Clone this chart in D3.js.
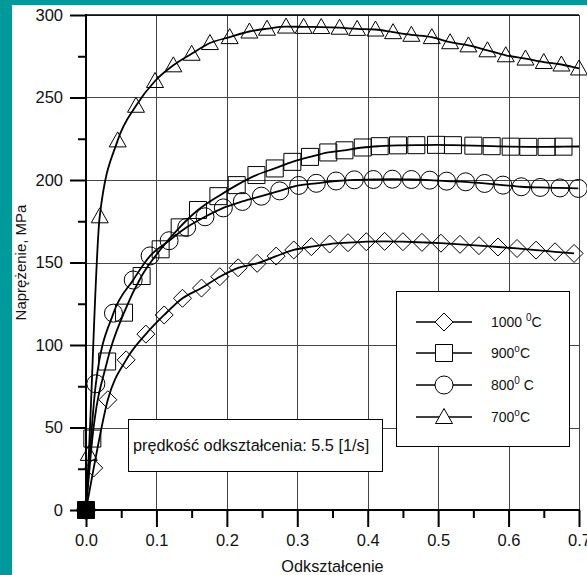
<!DOCTYPE html>
<html><head><meta charset="utf-8">
<script src="https://cdn.jsdelivr.net/npm/d3@7"></script>
<style>
html,body{margin:0;padding:0;background:#fff;}
svg{display:block;font-family:"Liberation Sans",Arial,sans-serif;}
</style></head>
<body><svg id="c" width="587" height="575"></svg>
<script>
// ---- data ----
const xTicks = [0, 0.1, 0.2, 0.3, 0.4, 0.5, 0.6, 0.7];
const xMinorTicks = [0.05, 0.15, 0.25, 0.35, 0.45, 0.55, 0.65];
const yTicks = [0, 50, 100, 150, 200, 250, 300];
const yMinorTicks = [25, 75, 125, 175, 225, 275];

const strain1000 = [0, 0.011, 0.031, 0.057, 0.085, 0.111, 0.137, 0.164, 0.190, 0.216, 0.243, 0.270, 0.295, 0.320, 0.346, 0.372, 0.398, 0.424, 0.450, 0.477, 0.504, 0.531, 0.558, 0.585, 0.612, 0.639, 0.666, 0.693];
const stress1000 = [0, 25.5, 66.8, 91.0, 106.6, 118.2, 128.3, 134.5, 141.4, 146.8, 149.5, 153.9, 157.6, 159.6, 161.2, 162.0, 162.6, 162.8, 162.6, 162.2, 161.7, 161.0, 160.2, 159.4, 158.5, 157.5, 156.5, 155.5];

const strain900 = [0, 0.009, 0.030, 0.054, 0.079, 0.106, 0.133, 0.159, 0.188, 0.214, 0.242, 0.268, 0.293, 0.318, 0.344, 0.367, 0.393, 0.417, 0.443, 0.469, 0.497, 0.521, 0.550, 0.576, 0.603, 0.628, 0.654, 0.678];
const stress900 = [0, 43.3, 90.0, 119.6, 141.8, 158.0, 171.3, 181.8, 190.2, 196.9, 203.0, 207.0, 211.0, 214.0, 216.7, 218.0, 219.7, 220.5, 221.0, 221.1, 221.3, 221.1, 220.8, 220.5, 220.2, 220.1, 220.1, 220.2];
const lineEnd900 = [0.700, 220.3];

const strain800 = [0, 0.014, 0.039, 0.067, 0.091, 0.118, 0.143, 0.169, 0.195, 0.222, 0.249, 0.275, 0.302, 0.327, 0.355, 0.381, 0.408, 0.435, 0.462, 0.488, 0.512, 0.539, 0.566, 0.592, 0.618, 0.645, 0.673, 0.699];
const stress800 = [0, 76.5, 119.3, 139.4, 154.0, 163.2, 171.3, 177.7, 183.1, 187.0, 190.2, 193.4, 196.7, 198.0, 199.4, 200.1, 200.3, 200.5, 200.3, 199.9, 199.3, 198.9, 197.9, 196.9, 195.9, 195.5, 195.2, 194.9];

const strain700 = [0, 0.004, 0.0195, 0.045, 0.071, 0.098, 0.124, 0.150, 0.176, 0.204, 0.232, 0.257, 0.284, 0.309, 0.334, 0.360, 0.385, 0.411, 0.436, 0.462, 0.491, 0.517, 0.543, 0.570, 0.596, 0.624, 0.650, 0.675, 0.700];
const stress700 = [0, 34, 178, 224, 245, 260, 269.5, 276.5, 283, 286.6, 290, 291.7, 293, 292.8, 292.7, 292.3, 291.6, 291.2, 289.6, 288, 286.6, 283.5, 281.6, 278.6, 275.6, 273.6, 271.5, 270, 267.6];

const seriesNames = ["1000", "900", "800", "700"];
const seriesSymbols = ["diamond", "square", "circle", "triangle"];
const legendLabels = [["1000 ", "0", "C"], ["900", "o", "C"], ["800", "0", " C"], ["700", "o", "C"]];
const annotation = "prędkość odkształcenia: 5.5 [1/s]";
const xTitle = "Odkształcenie";
const yTitle = "Naprężenie, MPa";

// ---- build ----
const svg = d3.select("#c");
const W = 587, H = 575;
const L = 86, R = 579, T = 15, B = 510;
const x = d3.scaleLinear().domain([0, 0.7]).range([L, R]);
const y = d3.scaleLinear().domain([0, 300]).range([B, T]);

// teal frame
svg.append("rect").attr("x", 0).attr("y", 0).attr("width", W).attr("height", H).attr("fill", "#fff");
svg.append("rect").attr("x", 0).attr("y", 0).attr("width", 12).attr("height", H).attr("fill", "#009a9a");
svg.append("rect").attr("x", 0).attr("y", 0).attr("width", W).attr("height", 5).attr("fill", "#009a9a");

// grid
const grid = svg.append("g");
grid.selectAll("line.vx").data(xTicks.slice(1)).join("line")
  .attr("x1", d => Math.round(x(d)) + 0.5).attr("x2", d => Math.round(x(d)) + 0.5)
  .attr("y1", T).attr("y2", B).attr("stroke", "#444").attr("stroke-width", 1);
grid.selectAll("line.hy").data(yTicks.slice(1)).join("line")
  .attr("x1", L).attr("x2", R).attr("y1", d => Math.round(y(d)) + 0.5).attr("y2", d => Math.round(y(d)) + 0.5)
  .attr("stroke", "#444").attr("stroke-width", 1);

// axes
const font = "Liberation Sans, Arial, sans-serif";
const yAxis = svg.append("g").attr("transform", `translate(${L},0)`)
  .call(d3.axisLeft(y).tickValues(yTicks).tickSize(16).tickPadding(7).tickFormat(d3.format("d")));
const yMinor = svg.append("g").attr("transform", `translate(${L},0)`)
  .call(d3.axisLeft(y).tickValues(yMinorTicks).tickSize(8).tickFormat(""));
const xAxis = svg.append("g").attr("transform", `translate(0,${B})`)
  .call(d3.axisBottom(x).tickValues(xTicks).tickSize(17).tickPadding(7).tickFormat(d3.format(".1f")));
const xMinor = svg.append("g").attr("transform", `translate(0,${B})`)
  .call(d3.axisBottom(x).tickValues(xMinorTicks).tickSize(8).tickFormat(""));
[yAxis, yMinor, xAxis, xMinor].forEach(g => {
  g.select(".domain").remove();
  g.selectAll(".tick line").attr("stroke", "#000").attr("stroke-width", 2);
  g.selectAll(".tick text").attr("font-family", font).attr("font-size", 16.5).attr("fill", "#111");
});
svg.append("line").attr("x1", L).attr("x2", L).attr("y1", T - 1).attr("y2", B + 1).attr("stroke", "#000").attr("stroke-width", 2);
svg.append("line").attr("x1", L - 1).attr("x2", R + 1).attr("y1", B).attr("y2", B).attr("stroke", "#000").attr("stroke-width", 2);
svg.append("line").attr("x1", L).attr("x2", R).attr("y1", T).attr("y2", T).attr("stroke", "#000").attr("stroke-width", 1.5);

// titles
svg.append("text").attr("x", (L + R) / 2).attr("y", 572).attr("text-anchor", "middle")
  .attr("font-family", font).attr("font-size", 16.3).attr("fill", "#111").text(xTitle);
svg.append("text").attr("transform", `translate(26,${(T + B) / 2}) rotate(-90)`).attr("text-anchor", "middle")
  .attr("font-family", font).attr("font-size", 15).attr("fill", "#111").text(yTitle);

// annotation box
svg.append("rect").attr("x", 128.5).attr("y", 419.5).attr("width", 254).attr("height", 52)
  .attr("fill", "#fff").attr("stroke", "#000").attr("stroke-width", 1);
svg.append("text").attr("x", 133).attr("y", 451).attr("font-family", font).attr("font-size", 16.3)
  .attr("fill", "#111").text(annotation);

// symbols
const symPath = {
  diamond: "M0,-9L9,0L0,9L-9,0Z",
  square: "M-8.5,-8.5H8.5V8.5H-8.5Z",
  circle: "M9,0A9,9 0 1,1 -9,0A9,9 0 1,1 9,0Z",
  triangle: "M0,-8.5L8.5,6.5H-8.5Z"
};

const series = [
  {xs: strain1000, ys: stress1000, tail: null},
  {xs: strain900, ys: stress900, tail: lineEnd900},
  {xs: strain800, ys: stress800, tail: null},
  {xs: strain700, ys: stress700, tail: null}
];

const line = d3.line().x(d => x(d[0])).y(d => y(d[1])).curve(d3.curveMonotoneX);
const markers = svg.append("g");
const curves = svg.append("g");
series.forEach((s, i) => {
  const pts = s.xs.map((v, j) => [v, s.ys[j]]);
  markers.selectAll(null).data(pts).join("path")
    .attr("transform", d => `translate(${x(d[0])},${y(d[1])})`)
    .attr("d", symPath[seriesSymbols[i]])
    .attr("fill", d => d[1] === 0 ? "#000" : "none")
    .attr("stroke", "#000").attr("stroke-width", 1);
  const lp = s.tail ? pts.concat([s.tail]) : pts;
  curves.append("path").attr("d", line(lp)).attr("fill", "none")
    .attr("stroke", "#000").attr("stroke-width", 1.8);
});

// legend
svg.append("rect").attr("x", 396.5).attr("y", 291.5).attr("width", 173).attr("height", 155)
  .attr("fill", "#fff").attr("stroke", "#000").attr("stroke-width", 1);
const legY = [322, 353, 385, 417];
seriesNames.forEach((n, i) => {
  const g = svg.append("g").attr("transform", `translate(0,${legY[i]})`);
  g.append("line").attr("x1", 416).attr("x2", 472).attr("y1", 0).attr("y2", 0).attr("stroke", "#000").attr("stroke-width", 1.5);
  g.append("path").attr("transform", "translate(444,0)").attr("d", symPath[seriesSymbols[i]])
    .attr("fill", "#fff").attr("stroke", "#000").attr("stroke-width", 1);
  const t = g.append("text").attr("x", 491).attr("y", 5).attr("font-family", font).attr("font-size", 14).attr("fill", "#111");
  t.append("tspan").text(legendLabels[i][0]);
  t.append("tspan").attr("dy", -6).attr("font-size", 10).text(legendLabels[i][1]);
  t.append("tspan").attr("dy", 6).text(legendLabels[i][2]);
});
</script></body></html>
